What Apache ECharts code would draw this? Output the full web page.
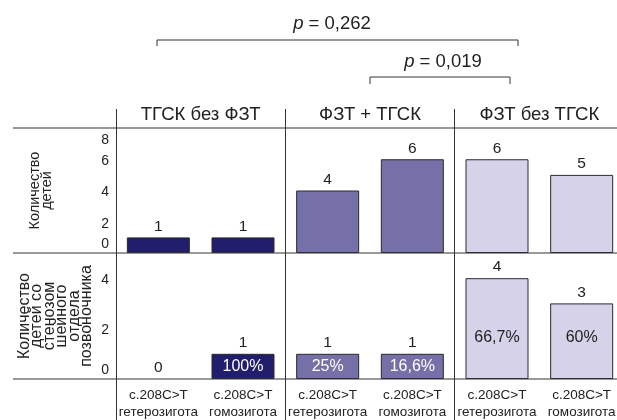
<!DOCTYPE html>
<html><head><meta charset="utf-8">
<script src="https://cdn.jsdelivr.net/npm/echarts@6/dist/echarts.min.js"></script>
<style>html,body{margin:0;padding:0;background:#fff}#c{width:617px;height:420px}</style>
</head><body><div id="c"></div>
<script>
const categories = ['c.208C>T\nгетерозигота','c.208C>T\nгомозигота','c.208C>T\nгетерозигота','c.208C>T\nгомозигота','c.208C>T\nгетерозигота','c.208C>T\nгомозигота'];
const groups = ['ТГСК без ФЗТ','ФЗТ + ТГСК','ФЗТ без ТГСК'];
const childrenCount = [1, 1, 4, 6, 6, 5];
const stenosisCount = [0, 1, 1, 1, 4, 3];
const stenosisPct = ['', '100%', '25%', '16,6%', '66,7%', '60%'];
const pLabels = ['0,262', '0,019'];
const topAxisName = 'Количество\nдетей';
const bottomAxisName = 'Количество\nдетей со\nстенозом\nшейного\nотдела\nпозвоночника';

const groupColors = ['#211e6e', '#7570a7', '#d5d2e9'];
const pctColors = ['#ffffff', '#ffffff', '#222222'];
const FONT = '"Liberation Sans", Arial, sans-serif';
const INK = '#222';
const LINE = '#333';

const G0 = {left:116, width:508, top:128, height:125, outerBoundsMode:'none', containLabel:false};
const G1 = {left:116, width:508, top:253, height:126, outerBoundsMode:'none', containLabel:false};

const chart = echarts.init(document.getElementById('c'), null, {renderer:'canvas'});

const colorFn = p => groupColors[Math.floor(p.dataIndex / 2)];

function yLabel(minV, maxV) {
  return {
    color: INK, fontFamily: FONT, fontSize: 14, margin: 7,
    formatter: v => v === minV ? '{lo|' + v + '}' : (v === maxV ? '{hi|' + v + '}' : '{n|' + v + '}'),
    rich: {
      lo: {fontSize:14, fontFamily:FONT, color:INK, padding:[0,0,18,0]},
      hi: {fontSize:14, fontFamily:FONT, color:INK, padding:[24,0,0,0]},
      n:  {fontSize:14, fontFamily:FONT, color:INK, padding:[4,0,0,0]}
    }
  };
}

const option = {
  animation: false,
  backgroundColor: '#fff',
  textStyle: {fontFamily: FONT},
  grid: [G0, G1],
  xAxis: [
    {type:'category', gridIndex:0, data:categories, axisLine:{show:false}, axisTick:{show:false}, axisLabel:{show:false}, splitLine:{show:false}},
    {type:'category', gridIndex:1, data:categories, position:'bottom', axisLine:{show:false}, axisTick:{show:false}, splitLine:{show:false},
      axisLabel:{color:INK, fontFamily:FONT, fontSize:13.5, lineHeight:17, margin:8, interval:0}},
    {type:'category', gridIndex:0, data:groups, position:'top', axisLine:{show:false},
      axisTick:{show:true, length:19, lineStyle:{color:LINE, width:1}},
      splitLine:{show:true, lineStyle:{color:LINE, width:1}},
      axisLabel:{color:INK, fontFamily:FONT, fontSize:18.5, margin:4, interval:0}},
    {type:'category', gridIndex:1, data:groups, position:'bottom', axisLine:{show:false},
      axisTick:{show:true, length:41, lineStyle:{color:LINE, width:1}},
      splitLine:{show:true, lineStyle:{color:LINE, width:1}},
      axisLabel:{show:false}}
  ],
  yAxis: [
    {type:'value', gridIndex:0, min:0, max:8, interval:2, axisLine:{show:false}, axisTick:{show:false}, splitLine:{show:false},
      axisLabel: yLabel(0, 8),
      name: topAxisName, nameLocation:'middle', nameRotate:90, nameGap:63, nameMoveOverlap:false,
      nameTextStyle:{color:INK, fontFamily:FONT, fontSize:14.5, lineHeight:12}},
    {type:'value', gridIndex:1, min:0, max:5, interval:2, axisLine:{show:false}, axisTick:{show:false}, splitLine:{show:false},
      axisLabel: Object.assign(yLabel(0, -1), {showMaxLabel:false}),
      name: bottomAxisName, nameLocation:'middle', nameRotate:90, nameGap:23, nameMoveOverlap:false,
      nameTextStyle:{color:INK, fontFamily:FONT, fontSize:16, lineHeight:12.5}}
  ],
  series: [
    {type:'bar', xAxisIndex:0, yAxisIndex:0, data:childrenCount, barWidth:63,
      itemStyle:{color:colorFn, borderColor:'#2a2a2a', borderWidth:1},
      label:{show:true, position:'top', distance:3, color:INK, fontFamily:FONT, fontSize:15.5}},
    {type:'bar', xAxisIndex:1, yAxisIndex:1, barWidth:63, barGap:'-100%',
      itemStyle:{color:colorFn, borderColor:'#2a2a2a', borderWidth:1},
      label:{show:true, position:'top', distance:3, color:INK, fontFamily:FONT, fontSize:15.5},
      data: stenosisCount.map(v => v === 0 ? {value: v, itemStyle:{borderWidth:0}} : v)},
    {type:'bar', xAxisIndex:1, yAxisIndex:1, barWidth:63, barGap:'-100%', silent:true,
      itemStyle:{color:'rgba(0,0,0,0)', borderWidth:0},
      label:{show:true, position:'inside', fontFamily:FONT, fontSize:16,
        formatter: p => stenosisPct[p.dataIndex], color: INK},
      data: stenosisCount.map((v, i) => {
        const g = Math.floor(i / 2);
        const lab = {color: pctColors[g]};
        if (v > 2) { lab.position = 'insideBottom'; lab.distance = 33; }
        return {value: v, label: lab};
      })}
  ]
};
chart.setOption(option);

function hline(y) {
  return {type:'line', shape:{x1:13, y1:y, x2:617, y2:y}, style:{stroke:LINE, lineWidth:1}, z:100};
}
function bracket(x1, x2, y, drop) {
  return {type:'polyline', shape:{points:[[x1,y+drop],[x1,y],[x2,y],[x2,y+drop]]}, style:{stroke:LINE, lineWidth:1, fill:null}, z:100};
}
function ptext(cx, cy, val) {
  return {type:'text', x:cx, y:cy, z:100, style:{
    text:'{i|p} = ' + val, align:'center', verticalAlign:'middle',
    fontFamily:FONT, fontSize:18.5, fill:INK,
    rich:{i:{fontStyle:'italic', fontFamily:FONT, fontSize:18.5, fill:INK}}
  }};
}
chart.setOption({graphic:[
  hline(G0.top), hline(G1.top), hline(G1.top + G1.height),
  bracket(157, 518, 40, 6), ptext(332, 24, pLabels[0]),
  bracket(370, 510, 77, 7), ptext(443, 62, pLabels[1])
]});
</script></body></html>
